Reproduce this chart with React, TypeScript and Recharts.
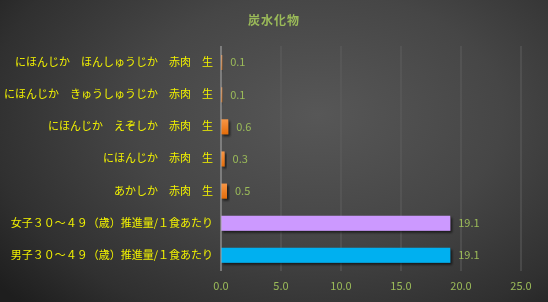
import { Bar, BarChart, CartesianGrid, Cell, LabelList, XAxis, YAxis } from "recharts"

// カテゴリ（上から順）
const categories = [
  "にほんじか　ほんしゅうじか　赤肉　生",
  "にほんじか　きゅうしゅうじか　赤肉　生",
  "にほんじか　えぞしか　赤肉　生",
  "にほんじか　赤肉　生",
  "あかしか　赤肉　生",
  "女子３０～４９（歳）推進量/１食あたり",
  "男子３０～４９（歳）推進量/１食あたり",
]
const values = [0.1, 0.1, 0.6, 0.3, 0.5, 19.1, 19.1]
const barColors = ["url(#orange)", "url(#orange)", "url(#orange)", "url(#orange)", "url(#orange)", "#cc99ff", "#00b0f0"]
const xTicks = [0, 5, 10, 15, 20, 25]

const data = categories.map((name, i) => ({ name, value: values[i] }))

const font = "'Noto Sans CJK JP', 'Noto Sans', sans-serif"

export default function App() {
  return (
    <div
      style={{
        position: "fixed",
        left: 0,
        top: 0,
        width: 548,
        height: 302,
        background: "radial-gradient(ellipse 75% 90% at 58% 38%, #575757 0%, #464646 45%, #303030 80%, #1e1e1e 100%)",
        fontFamily: font,
      }}
    >
      <div
        style={{
          position: "absolute",
          top: 11,
          width: "100%",
          textAlign: "center",
          color: "#9bbb59",
          fontSize: 12,
          fontWeight: "bold",
          letterSpacing: 1,
        }}
      >
        炭水化物
      </div>
      <BarChart
        width={548}
        height={302}
        data={data}
        layout="vertical"
        margin={{ top: 46, right: 27, bottom: 0, left: 5 }}
        barCategoryGap={8}
      >
        <defs>
          <linearGradient id="orange" x1="0" y1="0" x2="0" y2="1">
            <stop offset="0%" stopColor="#f79646" />
            <stop offset="100%" stopColor="#e46c0a" />
          </linearGradient>
          <filter id="shadow" x="-20%" y="-20%" width="160%" height="180%">
            <feDropShadow dx="2" dy="2" stdDeviation="1.2" floodColor="#000000" floodOpacity={0.6} />
          </filter>
        </defs>
        <CartesianGrid horizontal={false} stroke="#5e5e5e" strokeWidth={1} />
        <XAxis
          type="number"
          domain={[0, 25]}
          ticks={xTicks}
          tickFormatter={(v) => v.toFixed(1)}
          height={31}
          axisLine={false}
          tickLine={false}
          tickMargin={5}
          tick={{ fontSize: 11, fill: "#9bbb59", fontFamily: font }}
        />
        <YAxis
          type="category"
          dataKey="name"
          width={216}
          interval={0}
          axisLine={{ stroke: "#a6a6a6" }}
          tickLine={false}
          tick={{ fontSize: 11, fill: "#f2f200", fontFamily: font }}
        />
        <Bar dataKey="value" barSize={15} isAnimationActive={false} style={{ filter: "url(#shadow)" }}>
          {data.map((d, i) => (
            <Cell key={d.name} fill={barColors[i]} />
          ))}
          <LabelList
            dataKey="value"
            position="right"
            offset={8}
            formatter={(v: number) => v.toFixed(1)}
            style={{ fontSize: 11, fill: "#9bbb59", fontFamily: font, filter: "none" }}
          />
        </Bar>
      </BarChart>
    </div>
  )
}
